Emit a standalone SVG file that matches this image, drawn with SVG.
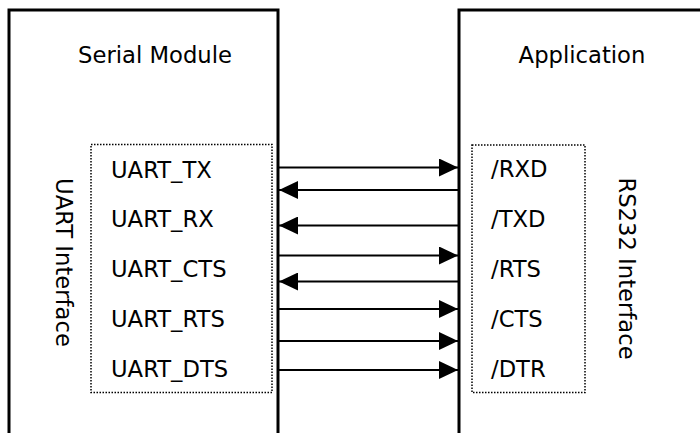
<svg xmlns="http://www.w3.org/2000/svg" width="700" height="433" viewBox="0 0 700 433">
<defs>
<style>
.box{fill:none;stroke:#000;stroke-width:3}
.dot{fill:none;stroke:#000;stroke-width:1.5;stroke-dasharray:1.5 1.5}
.t{font-family:"DejaVu Sans",Verdana,sans-serif;font-size:22.7px;fill:#000}
.c{stroke:#000;stroke-width:1.8;fill:none}
</style>
<marker id="ah" viewBox="0 0 19 18" refX="19" refY="9" markerWidth="19" markerHeight="18" markerUnits="userSpaceOnUse" orient="auto">
<path d="M0,0 L19,9 L0,18 Z" fill="#000"/>
</marker>
</defs>
<rect width="700" height="433" fill="#fff"/>
<g id="serial-module">
<path class="box" d="M9,440 V10 H278 V440"/>
<text class="t" x="155" y="63" text-anchor="middle">Serial Module</text>
</g>
<g id="uart-interface">
<rect class="dot" x="91" y="144.5" width="181" height="248"/>
<text class="t" transform="translate(55.5,262.5) rotate(90)" text-anchor="middle">UART Interface</text>
<text class="t" x="111" y="178">UART_TX</text>
<text class="t" x="111" y="227">UART_RX</text>
<text class="t" x="111" y="277">UART_CTS</text>
<text class="t" x="111" y="327">UART_RTS</text>
<text class="t" x="111" y="377">UART_DTS</text>
</g>
<g id="application">
<path class="box" d="M459,440 V10 H710"/>
<text class="t" x="582" y="63" text-anchor="middle">Application</text>
</g>
<g id="rs232-interface">
<rect class="dot" x="472" y="145" width="113" height="247.5"/>
<text class="t" transform="translate(619,268.5) rotate(90)" text-anchor="middle">RS232 Interface</text>
<text class="t" x="491" y="177">/RXD</text>
<text class="t" x="491" y="227">/TXD</text>
<text class="t" x="491" y="277">/RTS</text>
<text class="t" x="491" y="327">/CTS</text>
<text class="t" x="491" y="377">/DTR</text>
</g>
<g id="connectors">
<line class="c" x1="279" y1="167.5" x2="458" y2="167.5" marker-end="url(#ah)"/>
<line class="c" x1="458" y1="190" x2="279" y2="190" marker-end="url(#ah)"/>
<line class="c" x1="458" y1="225.5" x2="279" y2="225.5" marker-end="url(#ah)"/>
<line class="c" x1="279" y1="255.5" x2="458" y2="255.5" marker-end="url(#ah)"/>
<line class="c" x1="458" y1="281.5" x2="279" y2="281.5" marker-end="url(#ah)"/>
<line class="c" x1="279" y1="309" x2="458" y2="309" marker-end="url(#ah)"/>
<line class="c" x1="279" y1="341" x2="458" y2="341" marker-end="url(#ah)"/>
<line class="c" x1="279" y1="370" x2="458" y2="370" marker-end="url(#ah)"/>
</g>
</svg>
